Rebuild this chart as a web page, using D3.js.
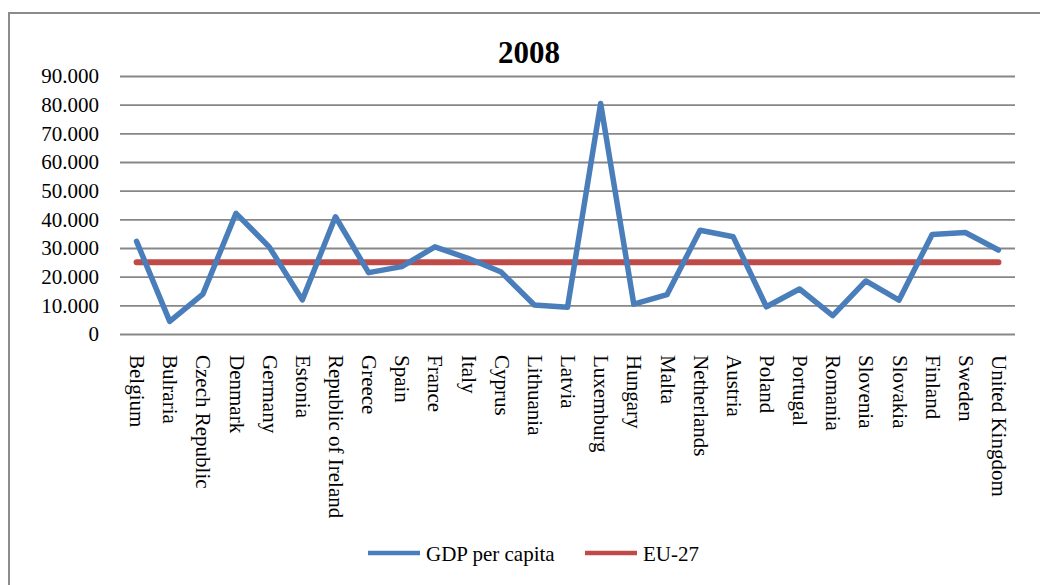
<!DOCTYPE html>
<html>
<head>
<meta charset="utf-8">
<script src="https://cdn.jsdelivr.net/npm/d3@7"></script>
<style>
html, body { margin: 0; padding: 0; background: #fff; }
svg { display: block; font-family: "Liberation Serif", "Times New Roman", serif; }
</style>
</head>
<body>
<svg id="chart" width="1040" height="585"></svg>
<script>
const categories = ["Belgium","Bulraria","Czech Republic","Denmark","Germany","Estonia","Republic of Ireland","Greece","Spain","France","Italy","Cyprus","Lithuania","Latvia","Luxemburg","Hungary","Malta","Netherlands","Austria","Poland","Portugal","Romania","Slovenia","Slovakia","Finland","Sweden","United Kingdom"];
const gdpPerCapita = [32300,4400,13900,42100,30400,11900,40900,21400,23500,30400,26400,21600,10100,9300,80400,10400,13700,36200,33900,9500,15700,6400,18500,11800,34700,35400,29300];
const eu27 = [25000,25000,25000,25000,25000,25000,25000,25000,25000,25000,25000,25000,25000,25000,25000,25000,25000,25000,25000,25000,25000,25000,25000,25000,25000,25000,25000];
const yTicks = [0,10000,20000,30000,40000,50000,60000,70000,80000,90000];
const seriesNames = ["GDP per capita","EU-27"];
const seriesColors = ["#4a7ebb","#be4b48"];
const title = "2008";

const svg = d3.select("#chart");
const locale = d3.formatLocale({decimal: ",", thousands: ".", grouping: [3], currency: ["€",""]});
const fmt = locale.format(",d");

// outer frame (top and left visible)
svg.append("rect").attr("x", 9).attr("y", 13).attr("width", 1200).attr("height", 800)
  .attr("fill", "none").attr("stroke", "#8c8c8c").attr("stroke-width", 2);

const x = d3.scalePoint().domain(categories).range([120, 1015]).padding(0.5);
const y = d3.scaleLinear().domain([0, 90000]).range([334, 76]);

// gridlines + y labels
const yAxis = d3.axisLeft(y).tickValues(yTicks).tickFormat(fmt).tickSize(-(1015 - 120)).tickPadding(21);
const gy = svg.append("g").attr("transform", "translate(120,0)").call(yAxis);
gy.select(".domain").remove();
gy.selectAll(".tick line").attr("stroke", "#878787").attr("stroke-width", 1.8);
gy.selectAll(".tick text").attr("fill", "#000").style("font-size", "21px")
  .style("font-family", "'Liberation Serif', 'Times New Roman', serif");

// x labels
const xAxis = d3.axisBottom(x).tickSize(0).tickPadding(0);
const gx = svg.append("g").attr("transform", "translate(0,334)").call(xAxis);
gx.select(".domain").remove();
gx.selectAll(".tick text")
  .attr("fill", "#000")
  .style("font-size", "21px")
  .style("font-family", "'Liberation Serif', 'Times New Roman', serif")
  .attr("text-anchor", "start")
  .attr("transform", "translate(0,21) rotate(90)")
  .attr("x", 0).attr("y", 0).attr("dy", "0.33em");

// lines
const line = d3.line().x((d, i) => x(categories[i])).y(d => y(d));
svg.append("path").datum(eu27).attr("d", line)
  .attr("fill", "none").attr("stroke", seriesColors[1]).attr("stroke-width", 6)
  .attr("stroke-linecap", "round").attr("stroke-linejoin", "round");
svg.append("path").datum(gdpPerCapita).attr("d", line)
  .attr("fill", "none").attr("stroke", seriesColors[0]).attr("stroke-width", 5.5)
  .attr("stroke-linecap", "round").attr("stroke-linejoin", "round");

// title
svg.append("text").attr("x", 529).attr("y", 63).attr("text-anchor", "middle")
  .style("font-size", "31px").style("font-weight", "bold").text(title);

// legend
const legendItems = [{x: 368, tx: 426}, {x: 585, tx: 643}];
seriesNames.forEach((name, i) => {
  const g = svg.append("g");
  g.append("line").attr("x1", legendItems[i].x).attr("x2", legendItems[i].x + 52)
    .attr("y1", 553).attr("y2", 553).attr("stroke", seriesColors[i]).attr("stroke-width", 4.5);
  g.append("text").attr("x", legendItems[i].tx).attr("y", 560.5)
    .style("font-size", "21px").attr("fill", "#000").text(name);
});
</script>
</body>
</html>
